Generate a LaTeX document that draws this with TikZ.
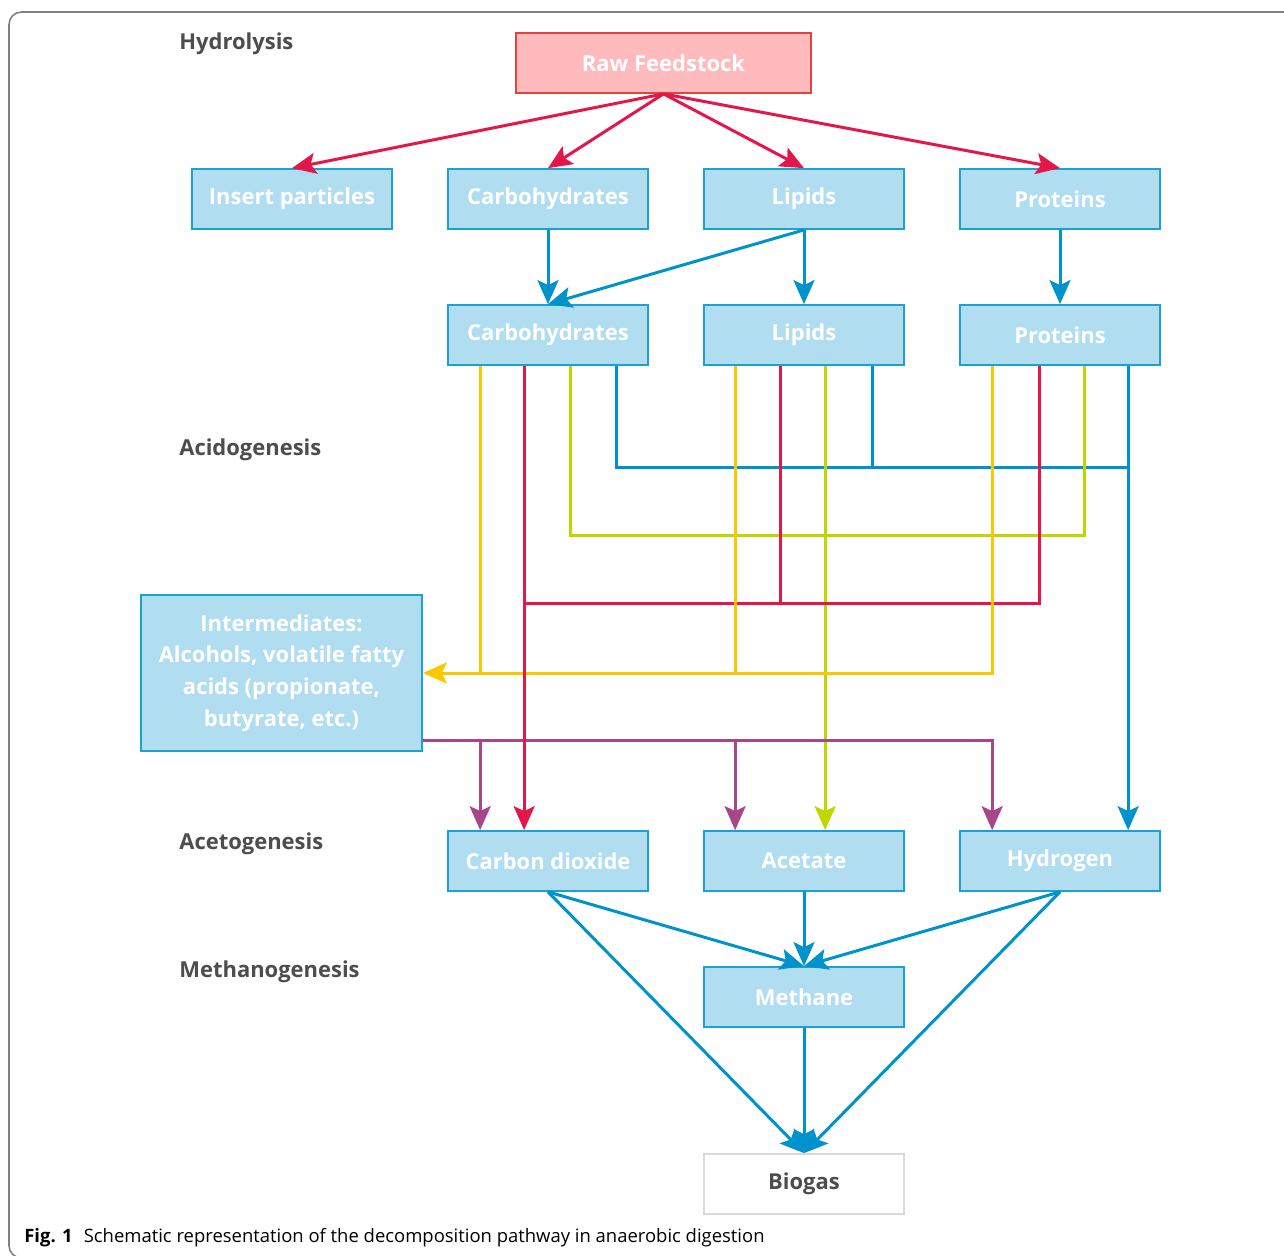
\documentclass[tikz,border=0pt]{standalone}
\usepackage{fontspec}
\setmainfont{Open Sans}
\usetikzlibrary{calc,arrows.meta}
\definecolor{boxfill}{RGB}{176,221,240}
\definecolor{boxedge}{RGB}{27,161,212}
\definecolor{flowblue}{RGB}{0,147,203}
\definecolor{flowred}{RGB}{227,23,74}
\definecolor{flowyellow}{RGB}{250,200,0}
\definecolor{flowlime}{RGB}{191,215,0}
\definecolor{flowpurple}{RGB}{168,70,140}
\definecolor{rawfill}{RGB}{255,186,190}
\definecolor{rawedge}{RGB}{224,68,63}
\definecolor{stagegray}{RGB}{77,77,77}
\begin{document}
\begin{tikzpicture}[x=0.02cm,y=-0.02cm,
    substance/.style={draw=boxedge, fill=boxfill, line width=1pt, minimum width=4cm, minimum height=1.2cm,
      inner sep=0pt, text=white, font=\fontsize{12.5}{18}\selectfont\bfseries},
    stage/.style={anchor=west, inner sep=0pt, text=stagegray, font=\fontsize{12.5}{15}\selectfont\bfseries},
    tip/.style={-{Stealth[length=0.48cm,width=0.42cm,inset=0.1cm]}},
    flow/.style={line width=1.7pt},
  ]
  \useasboundingbox (0,0) rectangle (1284,1255);
  \draw[line width=0.9pt, draw=gray, rounded corners=0.25cm] (1300,1258) -- (9,1258) -- (9,12) -- (1300,12);

  % stages
  \node[stage] (hydrolysis) at (179,44) {Hydrolysis};
  \node[stage] (acidogenesis) at (179,450) {Acidogenesis};
  \node[stage] (acetogenesis) at (179,844) {Acetogenesis};
  \node[stage] (methanogenesis) at (179,972) {Methanogenesis};

  % boxes
  \node[substance, draw=rawedge, fill=rawfill, minimum width=5.9cm] (raw) at (663.5,63) {Raw Feedstock};
  \node[substance] (inert) at (292,199) {Insert particles};
  \node[substance] (carb1) at (548,199) {Carbohydrates};
  \node[substance] (lip1) at (804,199) {Lipids};
  \node[substance] (prot1) at (1060,199) {Proteins};
  \node[substance] (carb2) at (548,335) {Carbohydrates};
  \node[substance] (lip2) at (804,335) {Lipids};
  \node[substance] (prot2) at (1060,335) {Proteins};
  \node[substance, minimum width=5.62cm, minimum height=3.12cm, align=center] (inter) at (281.5,673)
    {Intermediates:\\Alcohols, volatile fatty\\acids (propionate,\\butyrate, etc.)};
  \node[substance] (co2) at (548,861) {Carbon dioxide};
  \node[substance] (acet) at (804,861) {Acetate};
  \node[substance] (hydro) at (1060,861) {Hydrogen};
  \node[substance] (meth) at (804,997) {Methane};
  \node[substance, draw=black!15, fill=white, text=stagegray] (biogas) at (804,1184) {Biogas};

  % hydrolysis
  \foreach \t in {inert,carb1,lip1,prot1}
    \draw[flow, tip, flowred] (raw.south) -- (\t.north);
  \draw[flow, tip, flowblue] (carb1.south) -- (carb2.north);
  \draw[flow, tip, flowblue] (lip1.south) -- (lip2.north);
  \draw[flow, tip, flowblue] (lip1.south) -- (carb2.north);
  \draw[flow, tip, flowblue] (prot1.south) -- (prot2.north);

  % acidogenesis
  \draw[flow, flowblue] ($(carb2.south west)+(169,0)$) |- ($(prot2.south west)+(169,102)$);
  \draw[flow, flowblue] ($(lip2.south west)+(169,0)$) -- ($(lip2.south west)+(169,102)$);
  \draw[flow, tip, flowblue] ($(prot2.south west)+(169,0)$) -- ($(hydro.north west)+(169,0)$);

  \draw[flow, flowlime] ($(carb2.south west)+(123,0)$) |- ($(prot2.south west)+(125,170)$) -- ($(prot2.south west)+(125,0)$);
  \draw[flow, tip, flowlime] ($(lip2.south west)+(122,0)$) -- ($(acet.north west)+(122,0)$);

  \draw[flow, flowred] ($(carb2.south west)+(77,238)$) -| ($(prot2.south west)+(80,0)$);
  \draw[flow, flowred] ($(lip2.south west)+(77,0)$) -- ($(lip2.south west)+(77,238)$);

  \draw[flow, flowyellow] ($(carb2.south west)+(33,0)$) -- ($(carb2.south west)+(33,308)$);
  \draw[flow, flowyellow] ($(lip2.south west)+(32,0)$) -- ($(lip2.south west)+(32,308)$);
  \draw[flow, tip, flowyellow] ($(prot2.south west)+(33,0)$) |- (inter.east);

  % acetogenesis
  \draw[flow, tip, flowpurple] ($(inter.south east)+(0,-11)$) -| ($(hydro.north west)+(33,0)$);
  \draw[flow, tip, flowpurple] ($(co2.north west)+(33,-91)$) -- ($(co2.north west)+(33,0)$);
  \draw[flow, tip, flowpurple] ($(acet.north west)+(32,-91)$) -- ($(acet.north west)+(32,0)$);
  \draw[flow, tip, flowred] ($(carb2.south west)+(77,0)$) -- ($(co2.north west)+(77,0)$);

  % methanogenesis
  \foreach \s in {co2,acet,hydro}
    \draw[flow, tip, flowblue] (\s.south) -- (meth.north);
  \foreach \s in {co2,meth,hydro}
    \draw[flow, tip, flowblue] (\s.south) -- (biogas.north);

  % caption
  \node[anchor=base west, inner sep=0pt, font=\fontsize{10.5}{12}\selectfont] (caption) at (24,1242)
    {\textbf{Fig. 1}\hspace{0.6em}Schematic representation of the decomposition pathway in anaerobic digestion};
\end{tikzpicture}
\end{document}
